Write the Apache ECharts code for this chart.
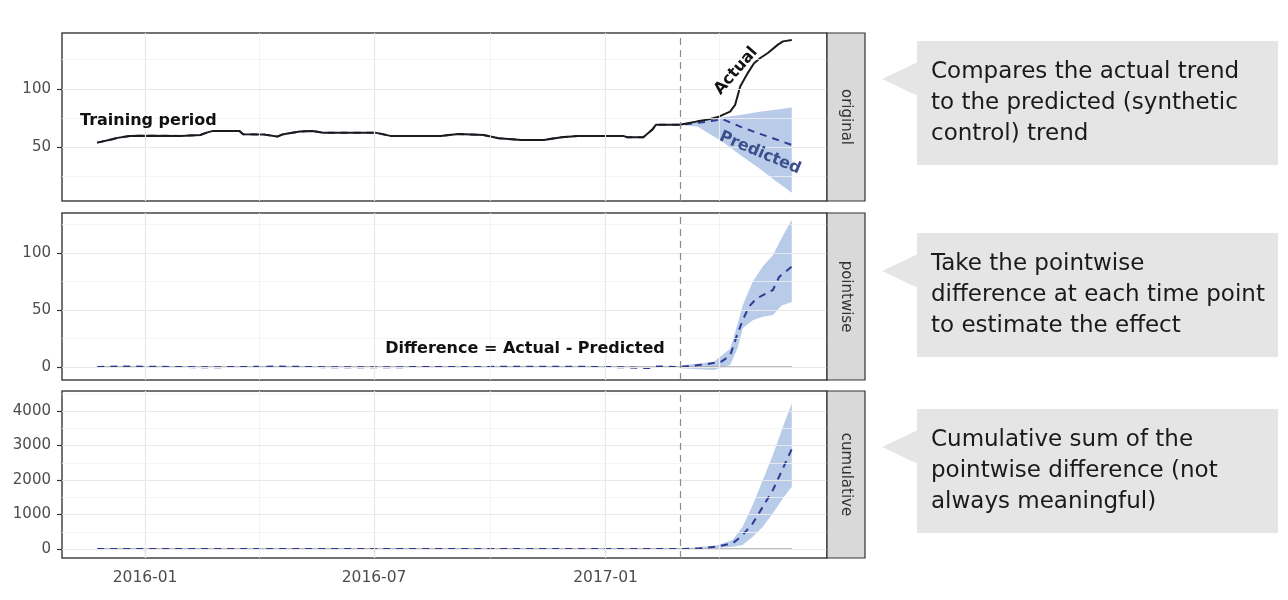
<!DOCTYPE html>
<html lang="en">
<head>
<meta charset="UTF-8">
<title>Synthetic control</title>
<script src="https://cdn.jsdelivr.net/npm/echarts@6.0.0/dist/echarts.min.js"></script>
<style>
  html, body { margin: 0; padding: 0; background: #fff; }
  #main { width: 1288px; height: 600px; }
</style>
</head>
<body>
<div id="main"></div>
<script>
// x range and the intervention date
const xMin = '2015-10-27';
const xMax = '2017-06-26';
const intervention = '2017-03-01';

// panel 1: actual series
const actualDates = ['2015-11-24','2015-12-06','2015-12-10','2015-12-20','2016-01-01','2016-01-29','2016-02-14','2016-02-19','2016-02-24','2016-03-16','2016-03-19','2016-04-05','2016-04-15','2016-04-20','2016-05-03','2016-05-13','2016-05-21','2016-07-02','2016-07-14','2016-08-23','2016-09-06','2016-09-26','2016-10-08','2016-10-26','2016-11-13','2016-11-27','2016-12-10','2017-01-15','2017-01-18','2017-01-31','2017-02-07','2017-02-10','2017-03-01','2017-03-15','2017-03-23','2017-04-01','2017-04-10','2017-04-14','2017-04-18','2017-04-24','2017-04-29','2017-05-04','2017-05-10','2017-05-18','2017-05-22','2017-05-29'];
const actualValues = [53.7,56.6,57.8,59.5,59.7,59.5,60.3,62.3,63.8,63.8,61,60.6,58.9,61,63.2,63.8,62.3,62.3,59.5,59.5,61.2,60.3,57.5,56,56,58.4,59.5,59.5,58.4,58.4,64.7,69,69,72,73.5,76,80.4,86.2,102,113.5,122,126.5,130.8,138,140.8,142];

// panel 1: predicted after the intervention, with its interval
const predDates = ['2017-03-23','2017-04-04','2017-04-18','2017-05-02','2017-05-14','2017-05-29'];
const predValues = [71.8,73.9,67.5,61.8,57.5,51.7];
const band1Dates = ['2017-03-01','2017-03-15','2017-04-04','2017-04-18','2017-05-02','2017-05-16','2017-05-29'];
const band1Lower = [69,67.5,54.4,43,32.5,21,10.5];
const band1Upper = [69.5,72,75.5,77.5,80,82,84];

// panel 2: pointwise difference
const pointDates = ['2015-11-24','2015-12-15','2016-02-20','2016-04-15','2016-06-01','2016-09-01','2016-12-01','2017-01-15','2017-02-06','2017-02-10','2017-03-01','2017-03-23','2017-04-03','2017-04-10','2017-04-16','2017-04-20','2017-04-25','2017-05-01','2017-05-09','2017-05-14','2017-05-19','2017-05-29'];
const pointValues = [0,0.5,-0.3,0.4,-0.3,0,0.3,-0.2,-1,0.5,0,2.6,4.7,10,29.5,41,53,60,64.6,67.5,79,88];
const band2Dates = ['2017-03-01','2017-03-28','2017-04-10','2017-04-16','2017-04-20','2017-04-28','2017-05-06','2017-05-14','2017-05-21','2017-05-29'];
const band2Lower = [-1,-2.6,1.7,16.7,34,41,44,45.6,54,57];
const band2Upper = [1,4.6,16,38,54,75,88,98,113,129];

// panel 3: cumulative difference
const cumDates = ['2015-11-24','2017-03-01','2017-03-17','2017-03-30','2017-04-12','2017-04-20','2017-04-28','2017-05-06','2017-05-14','2017-05-22','2017-05-29'];
const cumValues = [0,0,20,67,164,405,744,1226,1710,2339,2900];
const band3Dates = ['2017-03-01','2017-03-30','2017-04-12','2017-04-20','2017-04-28','2017-05-06','2017-05-14','2017-05-22','2017-05-29'];
const band3Lower = [0,30,67,116,357,646,1034,1470,1806];
const band3Upper = [0,100,260,646,1275,2000,2725,3545,4223];

// axes: ticks and grid lines
const xMajor = ['2016-01-01','2016-07-01','2017-01-01'];
const xMinor = ['2016-04-01','2016-10-01','2017-04-01'];
const yMin = [3.5, -11.4, -260];
const yMax = [148, 135, 4580];
const yMajor = [[50,100],[0,50,100],[0,1000,2000,3000,4000]];
const yMinor = [[25,75,125],[25,75,125],[500,1500,2500,3500,4500]];
const panelNames = ['original','pointwise','cumulative'];

const notes = [
  'Compares the actual trend\nto the predicted (synthetic\ncontrol) trend',
  'Take the pointwise\ndifference at each time point\nto estimate the effect',
  'Cumulative sum of the\npointwise difference (not\nalways meaningful)'
];

const FONT = 'DejaVu Sans';
const BAND = '#b8cbe9';
const DASH = '#2f3a92';
const T = s => +echarts.time.parse(s);
const pairs = (d, v) => d.map((x, i) => [T(x), v[i]]);

const chart = echarts.init(document.getElementById('main'));

const grids = [
  { left: 62, top: 33, width: 765, height: 168 },
  { left: 62, top: 213, width: 765, height: 167 },
  { left: 62, top: 391, width: 765, height: 167 }
];

const series = [];

function gridLines(i) {
  const lines = [];
  yMinor[i].forEach(v => lines.push({ yAxis: v, lineStyle: { color: '#f1f1f1', width: 0.8, type: 'solid' } }));
  xMinor.forEach(d => lines.push({ xAxis: T(d), lineStyle: { color: '#f1f1f1', width: 0.8, type: 'solid' } }));
  yMajor[i].forEach(v => lines.push({ yAxis: v, lineStyle: { color: '#e8e8e8', width: 1.2, type: 'solid' } }));
  xMajor.forEach(d => lines.push({ xAxis: T(d), lineStyle: { color: '#e8e8e8', width: 1.2, type: 'solid' } }));
  lines.push({ xAxis: T(intervention), lineStyle: { color: '#8c8c8c', width: 1.2, type: [7, 5] } });
  series.push({
    type: 'line', xAxisIndex: i, yAxisIndex: i, z: 0, silent: true,
    data: [[T(xMin), yMajor[i][0]]], symbol: 'none', lineStyle: { opacity: 0 },
    markLine: { silent: true, symbol: 'none', animation: false, label: { show: false },
      emphasis: { disabled: true }, data: lines }
  });
}

// interval ribbon: one polygon through the axis scales
function band(i, dates, lower, upper) {
  const pts = dates.map((d, k) => [T(d), lower[k], upper[k]]);
  series.push({
    type: 'custom', xAxisIndex: i, yAxisIndex: i, z: 1, silent: true,
    data: pts, encode: { x: 0, y: [1, 2] },
    renderItem: (params, api) => {
      if (params.dataIndex !== 0) return;
      const top = pts.map(p => api.coord([p[0], p[2]]));
      const bot = pts.map(p => api.coord([p[0], p[1]])).reverse();
      return { type: 'polygon', shape: { points: top.concat(bot) }, style: { fill: BAND } };
    }
  });
}

function zeroLine(i, dates) {
  series.push({
    type: 'line', xAxisIndex: i, yAxisIndex: i, z: 2, silent: true, symbol: 'none',
    lineStyle: { color: '#a6a6a6', width: 1.5 },
    data: [[T(dates[0]), 0], [T(dates[dates.length - 1]), 0]]
  });
}

function dashed(i, data) {
  series.push({
    type: 'line', xAxisIndex: i, yAxisIndex: i, z: 3, silent: true, symbol: 'none',
    lineStyle: { color: DASH, width: 2, type: [7, 6] }, data: data
  });
}

[0, 1, 2].forEach(gridLines);

// panel 1
band(0, band1Dates, band1Lower, band1Upper);
const fitted = pairs(actualDates, actualValues).filter(p => p[0] <= T(intervention));
dashed(0, fitted.concat(pairs(predDates, predValues)));
series.push({
  type: 'line', xAxisIndex: 0, yAxisIndex: 0, z: 4, silent: true, symbol: 'none',
  lineStyle: { color: '#1a1a1a', width: 2 }, data: pairs(actualDates, actualValues)
});

// panel 2
band(1, band2Dates, band2Lower, band2Upper);
zeroLine(1, pointDates);
dashed(1, pairs(pointDates, pointValues));

// panel 3
band(2, band3Dates, band3Lower, band3Upper);
zeroLine(2, cumDates);
dashed(2, pairs(cumDates, cumValues));

const graphic = [];
grids.forEach((g, i) => {
  graphic.push({
    type: 'rect', z: 10, shape: { x: 827, y: g.top, width: 38, height: g.height },
    style: { fill: '#d9d9d9', stroke: '#333', lineWidth: 1.2 }
  });
  graphic.push({
    type: 'text', z: 11, x: 846, y: g.top + g.height / 2, rotation: -Math.PI / 2,
    style: { text: panelNames[i], align: 'center', verticalAlign: 'middle',
      font: '15px "' + FONT + '"', fill: '#333' }
  });
});

const boxTops = [41, 233, 409];
const arrowY = [79, 271, 447];
boxTops.forEach((top, i) => {
  graphic.push({
    type: 'polygon', z: 10,
    shape: { points: [[882, arrowY[i]], [918, arrowY[i] - 17], [918, arrowY[i] + 17]] },
    style: { fill: '#e5e5e5' }
  });
  graphic.push({
    type: 'rect', z: 10, shape: { x: 917, y: top, width: 361, height: 124 },
    style: { fill: '#e5e5e5' }
  });
  graphic.push({
    type: 'text', z: 11, x: 931, y: top + 16,
    style: { text: notes[i], font: '23px "' + FONT + '"', fill: '#1a1a1a',
      lineHeight: 31, verticalAlign: 'top' }
  });
});

const bold = size => 'bold ' + size + 'px "' + FONT + '"';
graphic.push(
  { type: 'text', z: 11, x: 80, y: 121,
    style: { text: 'Training period', font: bold(16), fill: '#111', verticalAlign: 'middle' } },
  { type: 'text', z: 11, x: 736, y: 71, rotation: 49 * Math.PI / 180,
    style: { text: 'Actual', font: bold(16), fill: '#111', align: 'center', verticalAlign: 'middle' } },
  { type: 'text', z: 11, x: 760, y: 153, rotation: -23 * Math.PI / 180,
    style: { text: 'Predicted', font: bold(16), fill: '#3b4f8c', align: 'center', verticalAlign: 'middle' } },
  { type: 'text', z: 11, x: 525, y: 349,
    style: { text: 'Difference = Actual - Predicted', font: bold(16), fill: '#111',
      align: 'center', verticalAlign: 'middle' } }
);

const option = {
  animation: false,
  backgroundColor: '#fff',
  grid: grids.map(g => Object.assign({ show: true, borderColor: '#444', borderWidth: 1.5,
    backgroundColor: '#fff' }, g)),
  xAxis: [0, 1, 2].map(i => ({
    type: 'value', gridIndex: i, min: T(xMin), max: T(xMax),
    axisLine: { show: false }, splitLine: { show: false },
    axisTick: { show: i === 2, customValues: xMajor.map(T), length: 4,
      lineStyle: { color: '#333', width: 1.2 } },
    axisLabel: { show: i === 2, customValues: xMajor.map(T), margin: 12,
      formatter: v => echarts.time.format(v, '{yyyy}-{MM}', false),
      color: '#4d4d4d', fontSize: 15.5, fontFamily: FONT }
  })),
  yAxis: [0, 1, 2].map(i => ({
    type: 'value', gridIndex: i, min: yMin[i], max: yMax[i],
    axisLine: { show: false }, splitLine: { show: false },
    axisTick: { show: true, customValues: yMajor[i], length: 5,
      lineStyle: { color: '#333', width: 1.2 } },
    axisLabel: { customValues: yMajor[i], margin: 11, formatter: v => String(v),
      color: '#4d4d4d', fontSize: 15, fontFamily: FONT }
  })),
  series: series,
  graphic: graphic
};

chart.setOption(option);
</script>
</body>
</html>
